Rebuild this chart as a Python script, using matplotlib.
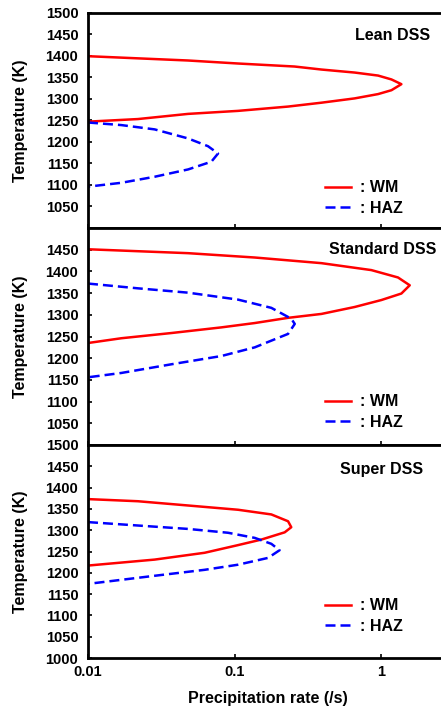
import matplotlib.pyplot as plt
from matplotlib.ticker import FixedLocator, NullLocator

plt.rcParams['font.family'] = ['Liberation Sans', 'DejaVu Sans']
plt.rcParams['font.weight'] = 'bold'

# precipitation rate (/s) vs temperature (K), WM and HAZ for each grade
lean_wm_rate = [0.01, 0.0219, 0.0482, 0.1057, 0.257, 0.392, 0.661, 0.955, 1.178, 1.377,
                1.178, 0.955, 0.661, 0.392, 0.232, 0.1057, 0.0482, 0.0219, 0.01]
lean_wm_temp = [1399, 1394, 1389, 1382, 1375, 1368, 1361, 1354, 1345, 1334,
                1320, 1311, 1301, 1291, 1282, 1272, 1265, 1253, 1247]
lean_haz_rate = [0.01, 0.0169, 0.0285, 0.0482, 0.0659, 0.0772, 0.0695, 0.0482,
                 0.0285, 0.0169, 0.01]
lean_haz_temp = [1245, 1239, 1229, 1208, 1190, 1173, 1154, 1136, 1119, 1105, 1096]

std_wm_rate = [0.01, 0.0482, 0.1374, 0.392, 0.859, 1.306, 1.57, 1.377, 1.005, 0.661,
               0.392, 0.232, 0.1374, 0.0813, 0.0371, 0.0169, 0.01]
std_wm_temp = [1451, 1442, 1432, 1419, 1403, 1386, 1368, 1349, 1334, 1318,
               1302, 1293, 1281, 1271, 1258, 1246, 1235]
std_haz_rate = [0.01, 0.0219, 0.0482, 0.1057, 0.1784, 0.244, 0.2577, 0.232,
                0.1374, 0.0813, 0.0371, 0.0169, 0.01]
std_haz_temp = [1372, 1361, 1351, 1335, 1316, 1291, 1279, 1256,
                1225, 1205, 1186, 1166, 1156]

sup_wm_rate = [0.01, 0.0219, 0.0482, 0.1057, 0.1784, 0.232, 0.244, 0.22, 0.1525,
               0.1057, 0.0625, 0.0285, 0.01]
sup_wm_temp = [1373, 1368, 1358, 1348, 1337, 1321, 1307, 1295, 1278,
               1265, 1247, 1231, 1217]
sup_haz_rate = [0.01, 0.0219, 0.0482, 0.0903, 0.1374, 0.1784, 0.203, 0.1694,
                0.1057, 0.0625, 0.0285, 0.01]
sup_haz_temp = [1319, 1311, 1303, 1294, 1282, 1268, 1253, 1235,
                1219, 1207, 1193, 1174]

panels = [
    ('Lean DSS', lean_wm_rate, lean_wm_temp, lean_haz_rate, lean_haz_temp,
     list(range(1050, 1501, 50))),
    ('Standard DSS', std_wm_rate, std_wm_temp, std_haz_rate, std_haz_temp,
     list(range(1050, 1451, 50))),
    ('Super DSS', sup_wm_rate, sup_wm_temp, sup_haz_rate, sup_haz_temp,
     list(range(1000, 1501, 50))),
]

W, H = 441, 710
fig = plt.figure(figsize=(W / 100, H / 100), dpi=100)

# pixel boxes: (top, bottom) of each panel; axes run past the right edge
boxes = [(12.7, 228), (228, 445), (445, 658)]
left_px, width_px = 88, 360
title_pos = [(0.95, 0.896), (0.967, 0.899), (0.931, 0.883)]
legend_y = [0.139, 0.152, 0.197]

for i, (name, wr, wt, hr, ht, yt) in enumerate(panels):
    top, bot = boxes[i]
    ax = fig.add_axes([left_px / W, 1 - bot / H, width_px / W, (bot - top) / H])
    ax.plot(wr, wt, color='#ff0000', lw=1.8, solid_joinstyle='round', label=': WM')
    ax.plot(hr, ht, color='#0000ff', lw=1.8, ls=(0, (4, 2)), dash_joinstyle='round',
            label=': HAZ')
    ax.set_xscale('log')
    ax.set_xlim(0.01, 2.865)
    ax.set_ylim(1000, 1500)
    ax.xaxis.set_major_locator(FixedLocator([0.01, 0.1, 1]))
    ax.xaxis.set_minor_locator(NullLocator())
    ax.set_yticks(list(range(1000, 1501, 50)))
    ax.set_yticklabels([str(v) if v in yt else '' for v in range(1000, 1501, 50)])
    ax.tick_params(direction='in', length=3, width=1.2, labelsize=10.5, pad=7)
    ax.tick_params(axis='x', pad=5)
    for s in ax.spines.values():
        s.set_linewidth(2.0)
    ax.set_ylabel('Temperature (K)', fontsize=11.5, fontweight='bold')
    ax.yaxis.set_label_coords(-0.167, 0.5)
    ax.text(title_pos[i][0], title_pos[i][1], name, transform=ax.transAxes,
            ha='right', va='center', fontsize=11.5, fontweight='bold')
    ax.legend(loc='center left', bbox_to_anchor=((325 - left_px) / width_px, legend_y[i]),
              frameon=False, fontsize=11.5, handlelength=1.6, handletextpad=0.6,
              labelspacing=0.35, borderpad=0, borderaxespad=0)
    if i < 2:
        ax.set_xticklabels([])
    else:
        ax.set_xticklabels(['0.01', '0.1', '1'])
        ax.set_xlabel('Precipitation rate (/s)', fontsize=11.5, fontweight='bold', labelpad=9)

fig.savefig('out.png', dpi=100)
